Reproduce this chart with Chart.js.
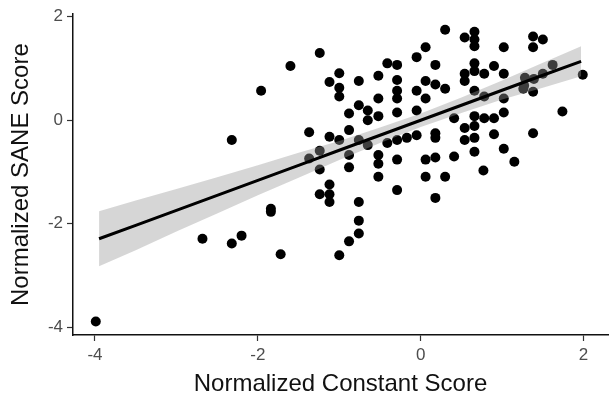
<!DOCTYPE html>
<html>
<head>
<meta charset="utf-8">
<script src="https://cdn.jsdelivr.net/npm/chart.js@4"></script>
<style>
  html, body { margin: 0; padding: 0; background: #fff; }
  #wrap { width: 613px; height: 407px; }
</style>
</head>
<body>
<div id="wrap"><canvas id="chart" width="613" height="407"></canvas></div>
<script>
// Scatter points: normalized Constant score (x) vs SANE score (y)
const constantScore = [
  -3.99, -2.68, -2.32, -2.20, -1.84, -1.84, -1.72, -2.32, -1.96, -1.60,
  -1.24, -1.37, -1.37, -1.24, -1.24, -1.24, -1.12, -1.12, -1.12, -1.12,
  -1.12, -1.00, -1.00, -1.00, -1.00, -1.00, -0.88, -0.88, -0.88, -0.88,
  -0.88, -0.76, -0.76, -0.76, -0.76, -0.76, -0.76, -0.65, -0.65, -0.65,
  -0.52, -0.52, -0.52, -0.52, -0.52, -0.52, -0.41, -0.41, -0.29, -0.29,
  -0.29, -0.29, -0.29, -0.29, -0.29, -0.29, -0.17, -0.05, -0.05, -0.05,
  -0.05, 0.06, 0.06, 0.06, 0.06, 0.06, 0.18, 0.18, 0.18, 0.18,
  0.18, 0.18, 0.30, 0.30, 0.30, 0.41, 0.41, 0.54, 0.54, 0.54,
  0.54, 0.54, 0.66, 0.66, 0.66, 0.66, 0.66, 0.66, 0.66, 0.66,
  0.66, 0.66, 0.77, 0.78, 0.78, 0.78, 0.90, 0.90, 0.90, 1.02,
  1.02, 1.02, 1.02, 1.02, 1.15, 1.27, 1.38, 1.50, 1.38, 1.62,
  1.50, 1.39, 1.38, 1.99, 1.74, 1.38, 1.26, 1.28
];
const saneScore = [
  -3.89, -2.29, -2.38, -2.23, -1.71, -1.77, -2.59, -0.38, 0.57, 1.05,
  1.30, -0.23, -0.74, -0.59, -0.95, -1.43, -0.32, -1.24, -1.43, -1.58,
  0.74, 0.91, 0.63, 0.46, -0.38, -2.61, 0.13, -0.19, -0.67, -0.91,
  -2.34, 0.76, 0.29, -0.38, -1.58, -1.94, -2.19, 0.19, 0.00, -0.48,
  0.86, 0.42, 0.08, -0.67, -0.84, -1.09, 1.10, -0.44, 1.07, 0.78,
  0.57, 0.42, 0.15, -0.38, -0.76, -1.35, -0.34, 1.22, 0.57, 0.19,
  -0.29, 1.41, 0.76, 0.42, -0.76, -1.09, 1.07, 0.69, -0.25, -0.34,
  -0.72, -1.50, 1.75, 0.61, -1.09, 0.04, -0.70, 1.60, 0.90, 0.76,
  -0.15, -0.38, 1.71, 1.56, 1.43, 1.10, 0.95, 0.57, 0.08, -0.11,
  -0.34, -0.61, -0.97, 0.90, 0.46, 0.04, 1.05, 0.04, -0.27, 1.41,
  0.90, 0.42, 0.15, -0.55, -0.80, 0.67, 1.62, 1.56, 1.41, 1.07,
  0.90, 0.80, 0.55, 0.88, 0.17, -0.25, 0.61, 0.82
];

// Fitted line and its confidence band, read at a few x positions
const fitX = [-3.95, -3.5, -3, -2.5, -2, -1.5, -1, -0.5, 0, 0.5, 1, 1.5, 1.97];
const fitY = [-2.29, -2.03, -1.74, -1.45, -1.16, -0.87, -0.58, -0.29, 0.00, 0.29, 0.58, 0.87, 1.14];
const bandUpper = [-1.76, -1.55, -1.33, -1.10, -0.87, -0.63, -0.40, -0.14, 0.13, 0.44, 0.77, 1.11, 1.43];
const bandLower = [-2.82, -2.51, -2.15, -1.80, -1.45, -1.11, -0.77, -0.44, -0.13, 0.14, 0.40, 0.63, 0.85];

const xTicks = [-4, -2, 0, 2];
const yTicks = [-4, -2, 0, 2];

function pairs(xs, ys) {
    return xs.map((x, i) => ({ x: x, y: ys[i] }));
}

const tickFont = { family: "'Liberation Sans', Arial, sans-serif", size: 17 };
const titleFont = { family: "'Liberation Sans', Arial, sans-serif", size: 24 };

const ctx = document.getElementById('chart').getContext('2d');
new Chart(ctx, {
    type: 'scatter',
    data: {
        datasets: [
            {
                // fit line, drawn last (on top)
                type: 'line',
                data: pairs(fitX, fitY),
                borderColor: '#000',
                borderWidth: 3,
                pointRadius: 0,
                fill: false,
                tension: 0
            },
            {
                type: 'line',
                data: pairs(fitX, bandUpper),
                borderWidth: 0,
                borderColor: 'rgba(0,0,0,0)',
                backgroundColor: 'rgba(153,153,153,0.4)',
                pointRadius: 0,
                fill: '+1',
                tension: 0
            },
            {
                type: 'line',
                data: pairs(fitX, bandLower),
                borderWidth: 0,
                borderColor: 'rgba(0,0,0,0)',
                pointRadius: 0,
                fill: false,
                tension: 0
            },
            {
                data: pairs(constantScore, saneScore),
                backgroundColor: '#000',
                borderColor: '#000',
                borderWidth: 0,
                pointRadius: 5,
                pointHoverRadius: 5
            }
        ]
    },
    options: {
        responsive: false,
        animation: false,
        layout: { padding: { top: 0, right: 0, left: 0, bottom: 0 } },
        plugins: {
            legend: { display: false },
            tooltip: { enabled: false }
        },
        scales: {
            x: {
                type: 'linear',
                min: -4.27,
                max: 2.30,
                afterBuildTicks: (scale) => { scale.ticks = xTicks.map(v => ({ value: v })); },
                afterFit: (scale) => { scale.height = 72; },
                grid: { drawOnChartArea: false, drawTicks: true, tickLength: 6, tickColor: '#333', tickWidth: 1.2 },
                border: { display: true, color: '#111', width: 1.5 },
                ticks: { color: '#4d4d4d', font: tickFont, padding: 4, maxRotation: 0 },
                title: {
                    display: true,
                    text: 'Normalized Constant Score',
                    color: '#111',
                    font: titleFont,
                    padding: { top: 0, bottom: 8 }
                }
            },
            y: {
                type: 'linear',
                min: -4.15,
                max: 2.05,
                afterBuildTicks: (scale) => { scale.ticks = yTicks.map(v => ({ value: v })); },
                afterFit: (scale) => { scale.width = 73; },
                grid: { drawOnChartArea: false, drawTicks: true, tickLength: 6, tickColor: '#333', tickWidth: 1.2 },
                border: { display: true, color: '#111', width: 1.5 },
                ticks: { color: '#4d4d4d', font: tickFont, padding: 4 },
                title: {
                    display: true,
                    text: 'Normalized SANE Score',
                    color: '#111',
                    font: titleFont,
                    padding: { top: 7, bottom: 0 }
                }
            }
        }
    }
});
</script>
</body>
</html>
